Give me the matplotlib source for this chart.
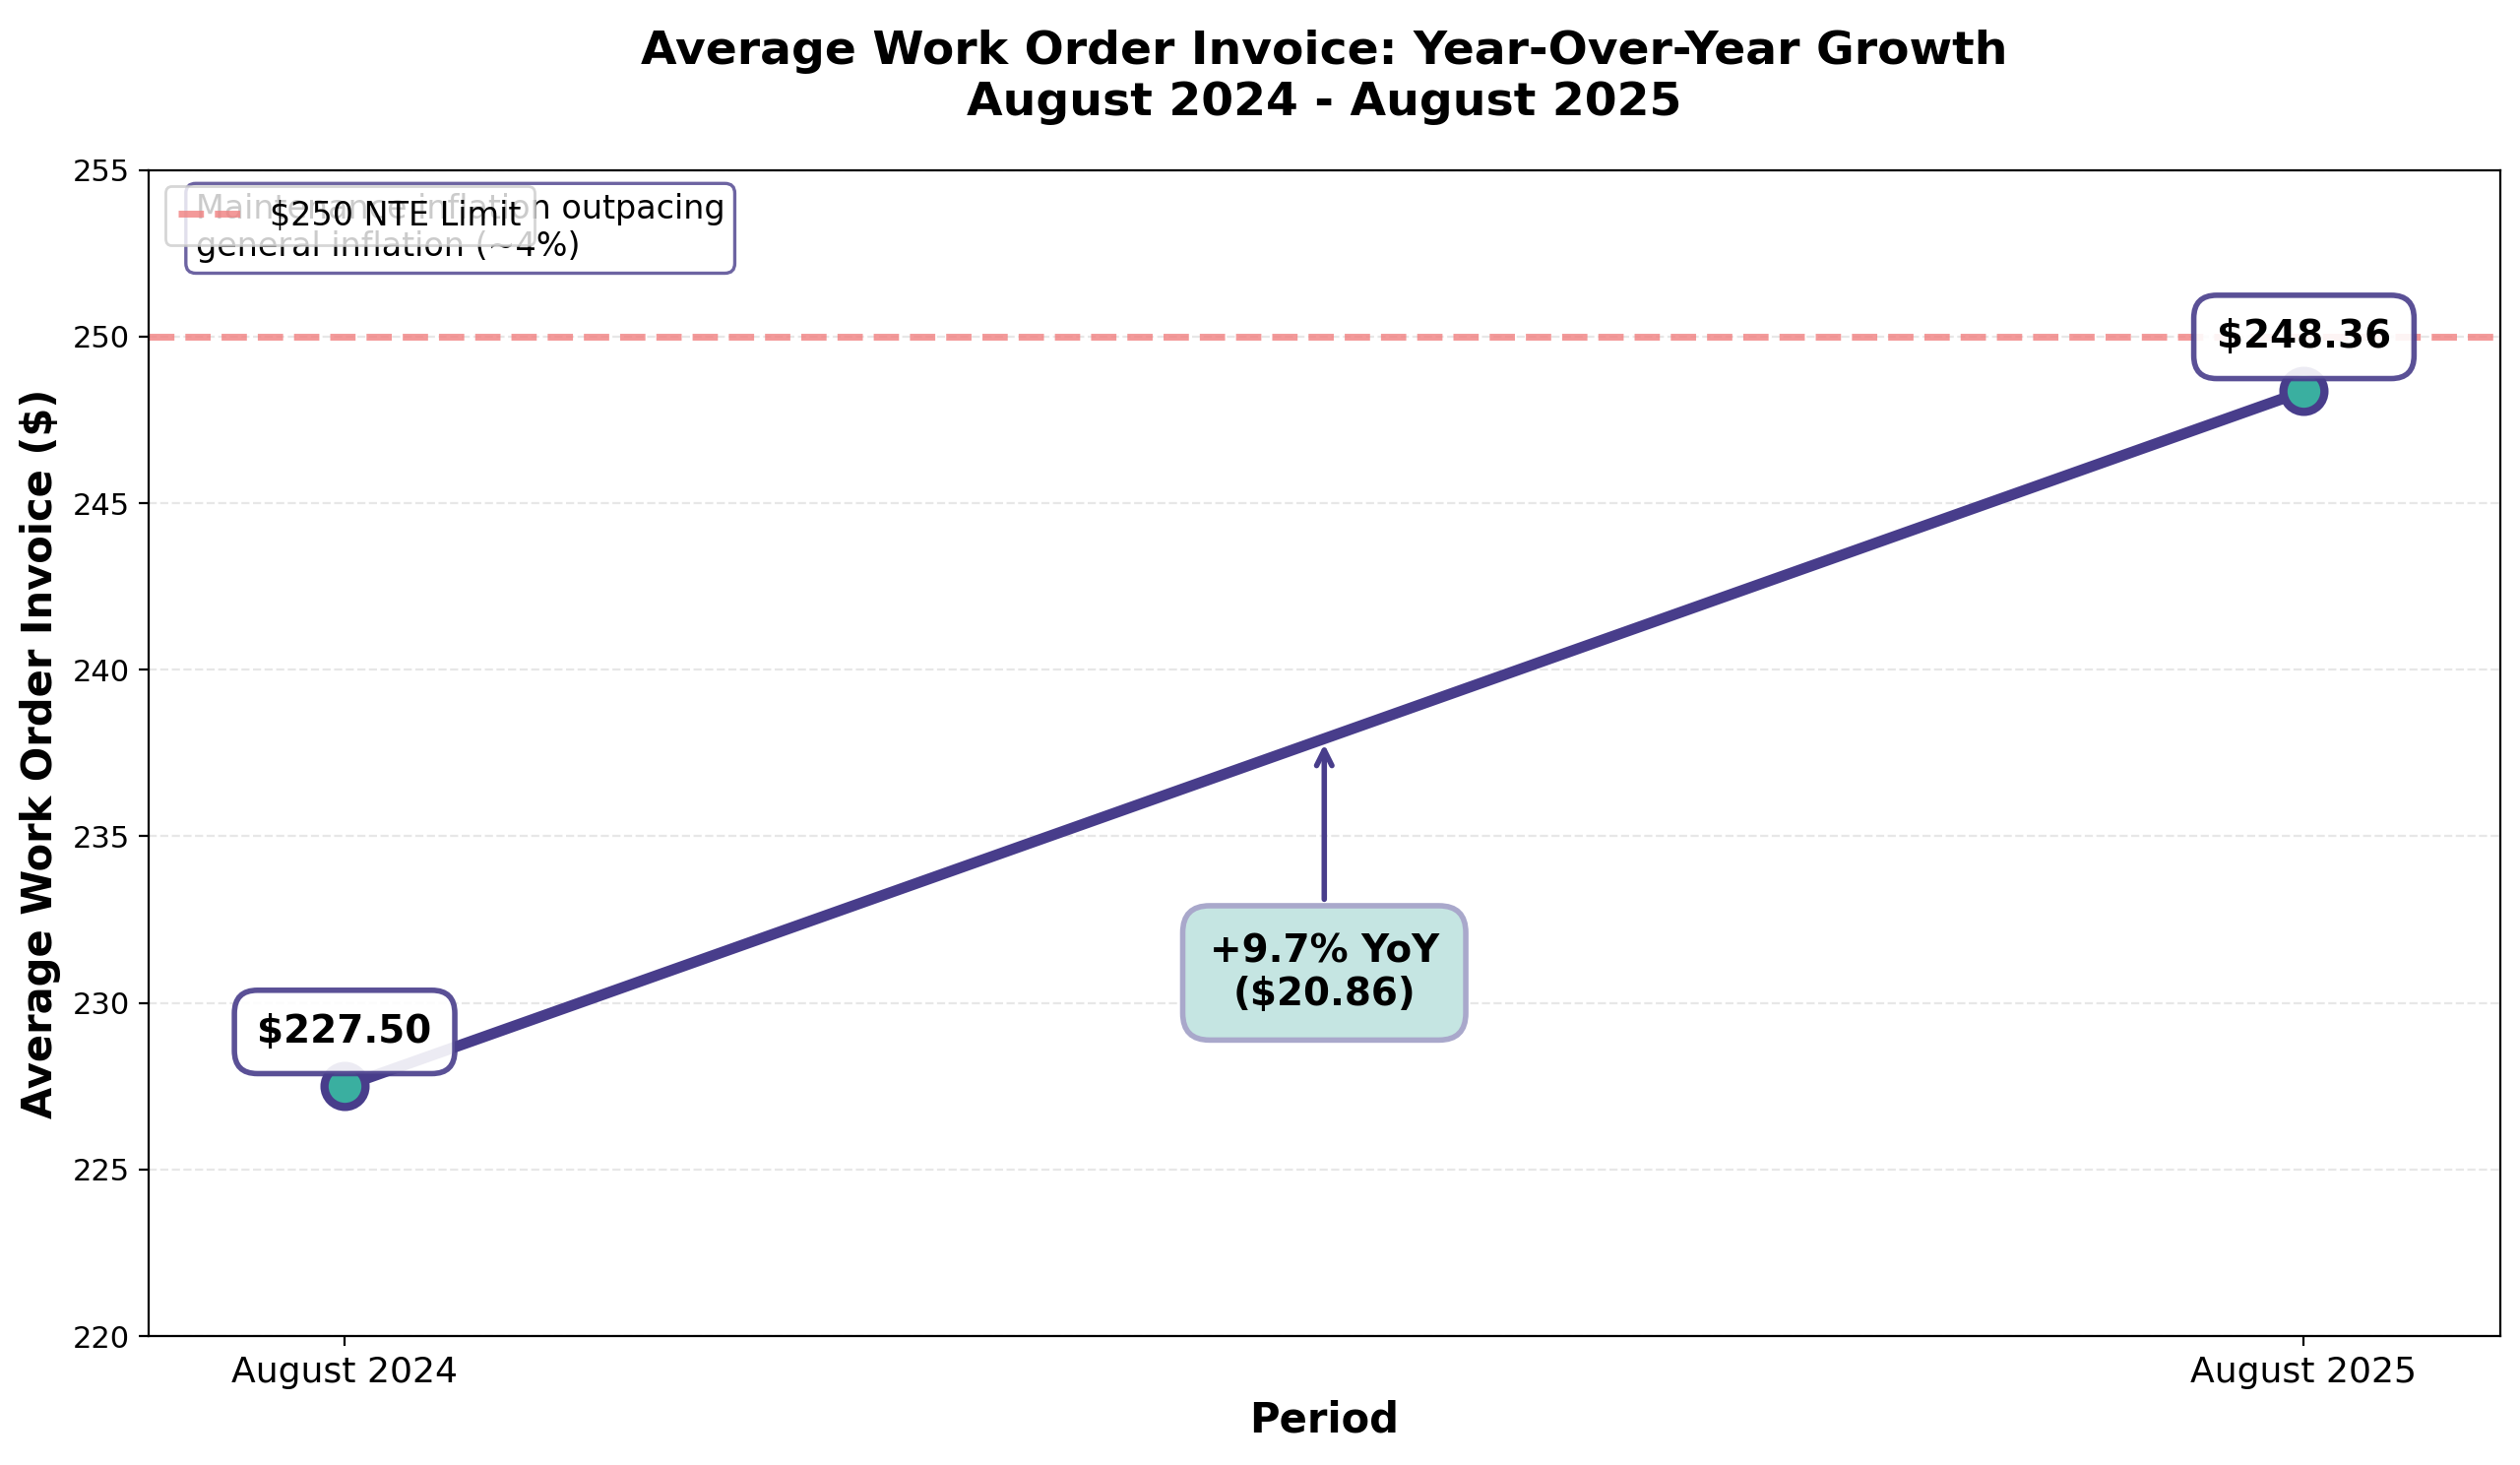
import matplotlib
matplotlib.use("Agg")
import matplotlib.pyplot as plt

periods = ["August 2024", "August 2025"]
values = [227.50, 248.36]
nte_limit = 250
yoy_pct = 9.7
yoy_diff = 20.86
yticks = [220, 225, 230, 235, 240, 245, 250, 255]

line_color = "#483D8B"
marker_color = "#3AAFA0"

fig = plt.figure(figsize=(12.8, 7.44), dpi=200)
ax = fig.add_axes([0.059, 0.088, 0.933, 0.796])

x = list(range(len(periods)))
ax.plot(x, values, color=line_color, linewidth=4, marker="o", markersize=15,
        markerfacecolor=marker_color, markeredgecolor=line_color, markeredgewidth=3, zorder=3)

ax.axhline(nte_limit, color="#F08080", linestyle="--", linewidth=2.5, alpha=0.8,
           label="$250 NTE Limit", zorder=2)

for xi, v in zip(x, values):
    ax.annotate(f"${v:.2f}", xy=(xi, v), xytext=(0, 13), textcoords="offset points",
                ha="center", va="bottom", fontsize=14, fontweight="bold",
                bbox=dict(boxstyle="round,pad=0.6", facecolor="white",
                          edgecolor=line_color, linewidth=2, alpha=0.9), zorder=5)

mid_y = (values[0] + values[1]) / 2
ax.annotate(f"+{yoy_pct}% YoY\n(${yoy_diff:.2f})", xy=(0.5, mid_y), xytext=(0.5, 230.9),
            ha="center", va="center", fontsize=14, fontweight="bold",
            bbox=dict(boxstyle="round,pad=0.7", facecolor="#C5E5E2", edgecolor="#A9A8CB",
                      linewidth=2),
            arrowprops=dict(arrowstyle="->", color=line_color, lw=2,
                            shrinkA=2, shrinkB=2), zorder=5)

ax.text(0.02, 0.98, "Maintenance inflation outpacing\ngeneral inflation (~4%)",
        transform=ax.transAxes, fontsize=12, va="top", ha="left",
        bbox=dict(boxstyle="round,pad=0.3", facecolor="white", edgecolor=line_color,
                  linewidth=1.2, alpha=0.8))

ax.legend(loc="upper left", fontsize=12, framealpha=0.8)

ax.set_xlim(-0.1, 1.1)
ax.set_ylim(220, 255)
ax.set_yticks(yticks)
ax.set_xticks(x)
ax.set_xticklabels(periods, fontsize=13)
ax.tick_params(axis="y", labelsize=11)
ax.grid(axis="y", linestyle="--", alpha=0.3)

ax.set_xlabel("Period", fontsize=15, fontweight="bold")
ax.set_ylabel("Average Work Order Invoice ($)", fontsize=15, fontweight="bold")
ax.set_title("Average Work Order Invoice: Year-Over-Year Growth\nAugust 2024 - August 2025",
             fontsize=17, fontweight="bold", pad=20)

fig.savefig("out.png", dpi=200)
